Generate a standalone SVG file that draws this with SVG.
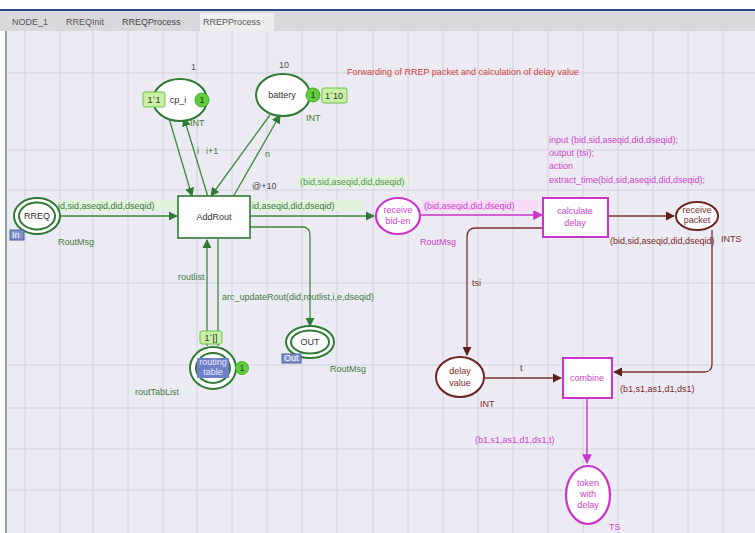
<svg xmlns="http://www.w3.org/2000/svg" width="755" height="533" viewBox="0 0 755 533">
<defs>
<style>
text{font-family:"Liberation Sans",Arial,sans-serif;font-size:9px}
.g{fill:#4f9a4f}.gd{fill:#3f7a3f}.m{fill:#cc44cc}.b{fill:#7a2a2a}.r{fill:#d2443c}
.pg{fill:#fff;stroke:#2f7a35;stroke-width:2}
.pm{fill:#fff;stroke:#cc33cc;stroke-width:2.2}
.pb{fill:#fff;stroke:#6e2424;stroke-width:2}
.tg{fill:#fff;stroke:#2f7a35;stroke-width:1.6}
.tm{fill:#fff;stroke:#cc33cc;stroke-width:2}
.ag{fill:none;stroke:#3d8a3d;stroke-width:1.3}
.am{fill:none;stroke:#cc33cc;stroke-width:1.4}
.ab{fill:none;stroke:#7a3030;stroke-width:1.3}
.grid{stroke:#d2d2de;stroke-width:1}
.tok{fill:#5ccf3a;stroke:#3fae2a}
.tbox{fill:#c9f0a5;stroke:#6cc24a}
.lbg{fill:#e2f3dc}
.lbm{fill:#f6dcf6}
.port{fill:#8090cc;stroke:#5060a0}
</style>
<marker id="ahg" viewBox="0 0 10 10" refX="9" refY="5" markerWidth="7" markerHeight="7" orient="auto"><path d="M0,0 L10,5 L0,10 z" fill="#2f7a35"/></marker>
<marker id="ahm" viewBox="0 0 10 10" refX="9" refY="5" markerWidth="7" markerHeight="7" orient="auto"><path d="M0,0 L10,5 L0,10 z" fill="#cc33cc"/></marker>
<marker id="ahb" viewBox="0 0 10 10" refX="9" refY="5" markerWidth="7" markerHeight="7" orient="auto"><path d="M0,0 L10,5 L0,10 z" fill="#5e1f1f"/></marker>
</defs>
<!-- window chrome -->
<rect x="0" y="0" width="755" height="533" fill="#ffffff"/>
<rect x="6" y="31" width="749" height="502" fill="#ecebf3"/>
<rect x="0" y="9" width="755" height="2" fill="#2b4a8a"/>
<rect x="0" y="11" width="755" height="20" fill="#d9d9dc"/>
<rect x="200" y="13" width="74" height="18" fill="#eeeeee"/>
<text x="12" y="25" fill="#555">NODE_1</text>
<text x="66" y="25" fill="#555">RREQInit</text>
<text x="122" y="25" fill="#444">RREQProcess</text>
<text x="203" y="25" fill="#555">RREPProcess</text>
<rect x="5" y="31" width="2" height="502" fill="#8aa8a0"/>
<!-- grid -->
<g class="grid">
<line x1="25" y1="31" x2="25" y2="533"/><line x1="60" y1="31" x2="60" y2="533"/><line x1="93" y1="31" x2="93" y2="533"/><line x1="128" y1="31" x2="128" y2="533"/><line x1="163" y1="31" x2="163" y2="533"/><line x1="197" y1="31" x2="197" y2="533"/><line x1="232" y1="31" x2="232" y2="533"/><line x1="267" y1="31" x2="267" y2="533"/><line x1="302" y1="31" x2="302" y2="533"/><line x1="337" y1="31" x2="337" y2="533"/><line x1="373" y1="31" x2="373" y2="533"/><line x1="408" y1="31" x2="408" y2="533"/><line x1="443" y1="31" x2="443" y2="533"/><line x1="478" y1="31" x2="478" y2="533"/><line x1="513" y1="31" x2="513" y2="533"/><line x1="548" y1="31" x2="548" y2="533"/><line x1="583" y1="31" x2="583" y2="533"/><line x1="618" y1="31" x2="618" y2="533"/><line x1="653" y1="31" x2="653" y2="533"/><line x1="688" y1="31" x2="688" y2="533"/><line x1="723" y1="31" x2="723" y2="533"/>
<line x1="6" y1="73" x2="755" y2="73"/><line x1="6" y1="150" x2="755" y2="150"/><line x1="6" y1="190" x2="755" y2="190"/><line x1="6" y1="283" x2="755" y2="283"/><line x1="6" y1="365" x2="755" y2="365"/><line x1="6" y1="408" x2="755" y2="408"/><line x1="6" y1="449" x2="755" y2="449"/><line x1="6" y1="490" x2="755" y2="490"/>
</g>
<!-- title -->
<text x="347" y="75" class="r">Forwarding of RREP packet and calculation of delay value</text>
<!-- connectors -->
<g id="connectors">
<line class="ag" x1="60" y1="216" x2="177" y2="216" marker-end="url(#ahg)"/>
<line class="ag" x1="168" y1="115" x2="192" y2="196" marker-end="url(#ahg)"/>
<line class="ag" x1="208" y1="197" x2="184" y2="118" marker-end="url(#ahg)"/>
<line class="ag" x1="270" y1="115" x2="211" y2="196" marker-end="url(#ahg)"/>
<line class="ag" x1="233" y1="197" x2="280" y2="115" marker-end="url(#ahg)"/>
<line class="ag" x1="250" y1="216" x2="374" y2="216" marker-end="url(#ahg)"/>
<path class="ag" d="M250,227 H302 Q310,227 310,235 V326" marker-end="url(#ahg)"/>
<line class="ag" x1="207" y1="346" x2="207" y2="240" marker-end="url(#ahg)"/>
<line class="ag" x1="218" y1="239" x2="218" y2="346"/>
<line class="am" x1="421" y1="215" x2="542" y2="215" marker-end="url(#ahm)"/>
<line class="ab" x1="608" y1="216" x2="674" y2="216" marker-end="url(#ahb)"/>
<path class="ab" d="M543,228 H476 Q467,228 467,237 V355" marker-end="url(#ahb)"/>
<path class="ab" d="M712,230 V364 Q712,372 704,372 H614" marker-end="url(#ahb)"/>
<line class="ab" x1="485" y1="378" x2="561" y2="378" marker-end="url(#ahb)"/>
<line class="am" x1="587" y1="398" x2="587" y2="463" marker-end="url(#ahm)"/>
</g>
<!-- arc labels -->
<g id="arc-labels">
<rect class="lbg" x="58" y="200" width="124" height="11"/>
<text x="58" y="209" class="gd">id,sid,aseqid,did,dseqid)</text>
<text x="197" y="154" class="gd">i</text>
<text x="206" y="154" class="gd">i+1</text>
<text x="265" y="157" class="gd">n</text>
<text x="252" y="189" fill="#444">@+10</text>
<rect class="lbg" x="298" y="176" width="110" height="11"/>
<text x="300" y="185" class="g">(bid,sid,aseqid,did,dseqid)</text>
<rect class="lbg" x="251" y="200" width="112" height="11"/>
<text x="252" y="209" class="gd">id,aseqid,did,dseqid)</text>
<text x="178" y="280" class="gd">routlist</text>
<text x="222" y="300" class="gd">arc_updateRout(did,routlist,i,e,dseqid)</text>
<rect class="lbm" x="422" y="200" width="116" height="11"/>
<text x="424" y="209" class="m">(bid,aseqid,did,dseqid)</text>
<text x="549" y="143" class="m">input (bid,sid,aseqid,did,dseqid);</text>
<text x="549" y="156" class="m">output (tsi);</text>
<text x="549" y="169" class="m">action</text>
<text x="549" y="183" class="m">extract_time(bid,sid,aseqid,did,dseqid);</text>
<text x="610" y="244" class="b">(bid,sid,aseqid,did,dseqid)</text>
<text x="472" y="286" class="b">tsi</text>
<text x="520" y="371" class="b">t</text>
<text x="620" y="392" class="b">(b1,s1,as1,d1,ds1)</text>
<text x="475" y="443" class="m">(b1,s1,as1,d1,ds1,t)</text>
</g>
<!-- nodes -->
<g id="cp_i">
<ellipse class="pg" cx="180" cy="100" rx="27" ry="21"/>
<text x="178" y="103" text-anchor="middle" fill="#333">cp_i</text>
<text x="191" y="70" fill="#555">1</text>
<rect class="tbox" x="143" y="92" width="22" height="15" rx="2"/>
<text x="154" y="103" text-anchor="middle" fill="#333">1`1</text>
<circle class="tok" cx="202" cy="100" r="7"/>
<text x="202" y="103" text-anchor="middle" fill="#333">1</text>
<text x="190" y="126" class="gd">INT</text>
</g>
<g id="battery">
<ellipse class="pg" cx="283" cy="95" rx="27" ry="21"/>
<text x="282" y="98" text-anchor="middle" fill="#333">battery</text>
<text x="279" y="68" fill="#555">10</text>
<circle class="tok" cx="313" cy="95" r="7"/>
<text x="313" y="98" text-anchor="middle" fill="#333">1</text>
<rect class="tbox" x="322" y="88" width="25" height="15" rx="2"/>
<text x="334" y="99" text-anchor="middle" fill="#333">1`10</text>
<text x="306" y="121" class="gd">INT</text>
</g>
<g id="RREQ">
<ellipse class="pg" cx="37" cy="216" rx="23" ry="18"/>
<ellipse class="pg" cx="37" cy="216" rx="18" ry="13.5" stroke-width="1.6"/>
<text x="37" y="219" text-anchor="middle" fill="#333">RREQ</text>
<rect class="port" x="10" y="230" width="14" height="10"/>
<text x="12" y="238" fill="#fff" font-size="7">In</text>
<text x="58" y="245" class="gd">RoutMsg</text>
</g>
<g id="AddRout">
<rect class="tg" x="178" y="196" width="72" height="42"/>
<text x="214" y="220" text-anchor="middle" fill="#333">AddRout</text>
</g>
<g id="OUT">
<ellipse class="pg" cx="310" cy="342" rx="24" ry="16"/>
<ellipse class="pg" cx="310" cy="342" rx="19" ry="11.5" stroke-width="1.6"/>
<text x="310" y="345" text-anchor="middle" fill="#333">OUT</text>
<rect class="port" x="282" y="354" width="19" height="9"/>
<text x="284" y="361" fill="#fff" font-size="7">Out</text>
<text x="330" y="372" class="gd">RoutMsg</text>
</g>
<g id="routing-table">
<ellipse class="pg" cx="213" cy="368" rx="23" ry="21"/>
<ellipse class="pg" cx="213" cy="368" rx="17" ry="15" stroke-width="1.6"/>
<rect x="197" y="358" width="32" height="20" fill="#6f7fc8"/>
<text x="213" y="365" text-anchor="middle" fill="#e8e8ff" font-size="5.5">routing</text>
<text x="213" y="375" text-anchor="middle" fill="#e8e8ff" font-size="5.5">table</text>
<rect class="tbox" x="200" y="331" width="22" height="13" rx="2"/>
<text x="211" y="341" text-anchor="middle" fill="#333">1`[]</text>
<circle class="tok" cx="242" cy="368" r="6.5"/>
<text x="242" y="371" text-anchor="middle" fill="#333">1</text>
<text x="135" y="395" class="gd">routTabList</text>
</g>
<g id="receive-bid-en">
<ellipse class="pm" cx="398" cy="216" rx="22" ry="18"/>
<text x="398" y="213" text-anchor="middle" class="m" font-size="8">receive</text>
<text x="398" y="224" text-anchor="middle" class="m" font-size="8">bid-en</text>
<text x="420" y="245" class="m">RoutMsg</text>
</g>
<g id="calculate-delay">
<rect class="tm" x="543" y="198" width="65" height="39"/>
<text x="575" y="214" text-anchor="middle" class="m">calculate</text>
<text x="575" y="226" text-anchor="middle" class="m">delay</text>
</g>
<g id="receive-packet">
<ellipse class="pb" cx="697" cy="216" rx="21" ry="14"/>
<text x="697" y="213" text-anchor="middle" class="b" font-size="8">receive</text>
<text x="697" y="223" text-anchor="middle" class="b" font-size="8">packet</text>
<text x="721" y="242" class="b">INTS</text>
</g>
<g id="delay-value">
<ellipse class="pb" cx="460" cy="377" rx="24" ry="20"/>
<text x="460" y="374" text-anchor="middle" class="b">delay</text>
<text x="460" y="386" text-anchor="middle" class="b">value</text>
<text x="480" y="407" class="b">INT</text>
</g>
<g id="combine">
<rect class="tm" x="563" y="358" width="49" height="40"/>
<text x="587" y="381" text-anchor="middle" class="m">combine</text>
</g>
<g id="token-with-delay">
<ellipse class="pm" cx="588" cy="495" rx="22" ry="29"/>
<text x="588" y="486" text-anchor="middle" class="m">token</text>
<text x="588" y="497" text-anchor="middle" class="m">with</text>
<text x="588" y="508" text-anchor="middle" class="m">delay</text>
<text x="609" y="530" class="m" font-size="7">TS</text>
</g>
</svg>
